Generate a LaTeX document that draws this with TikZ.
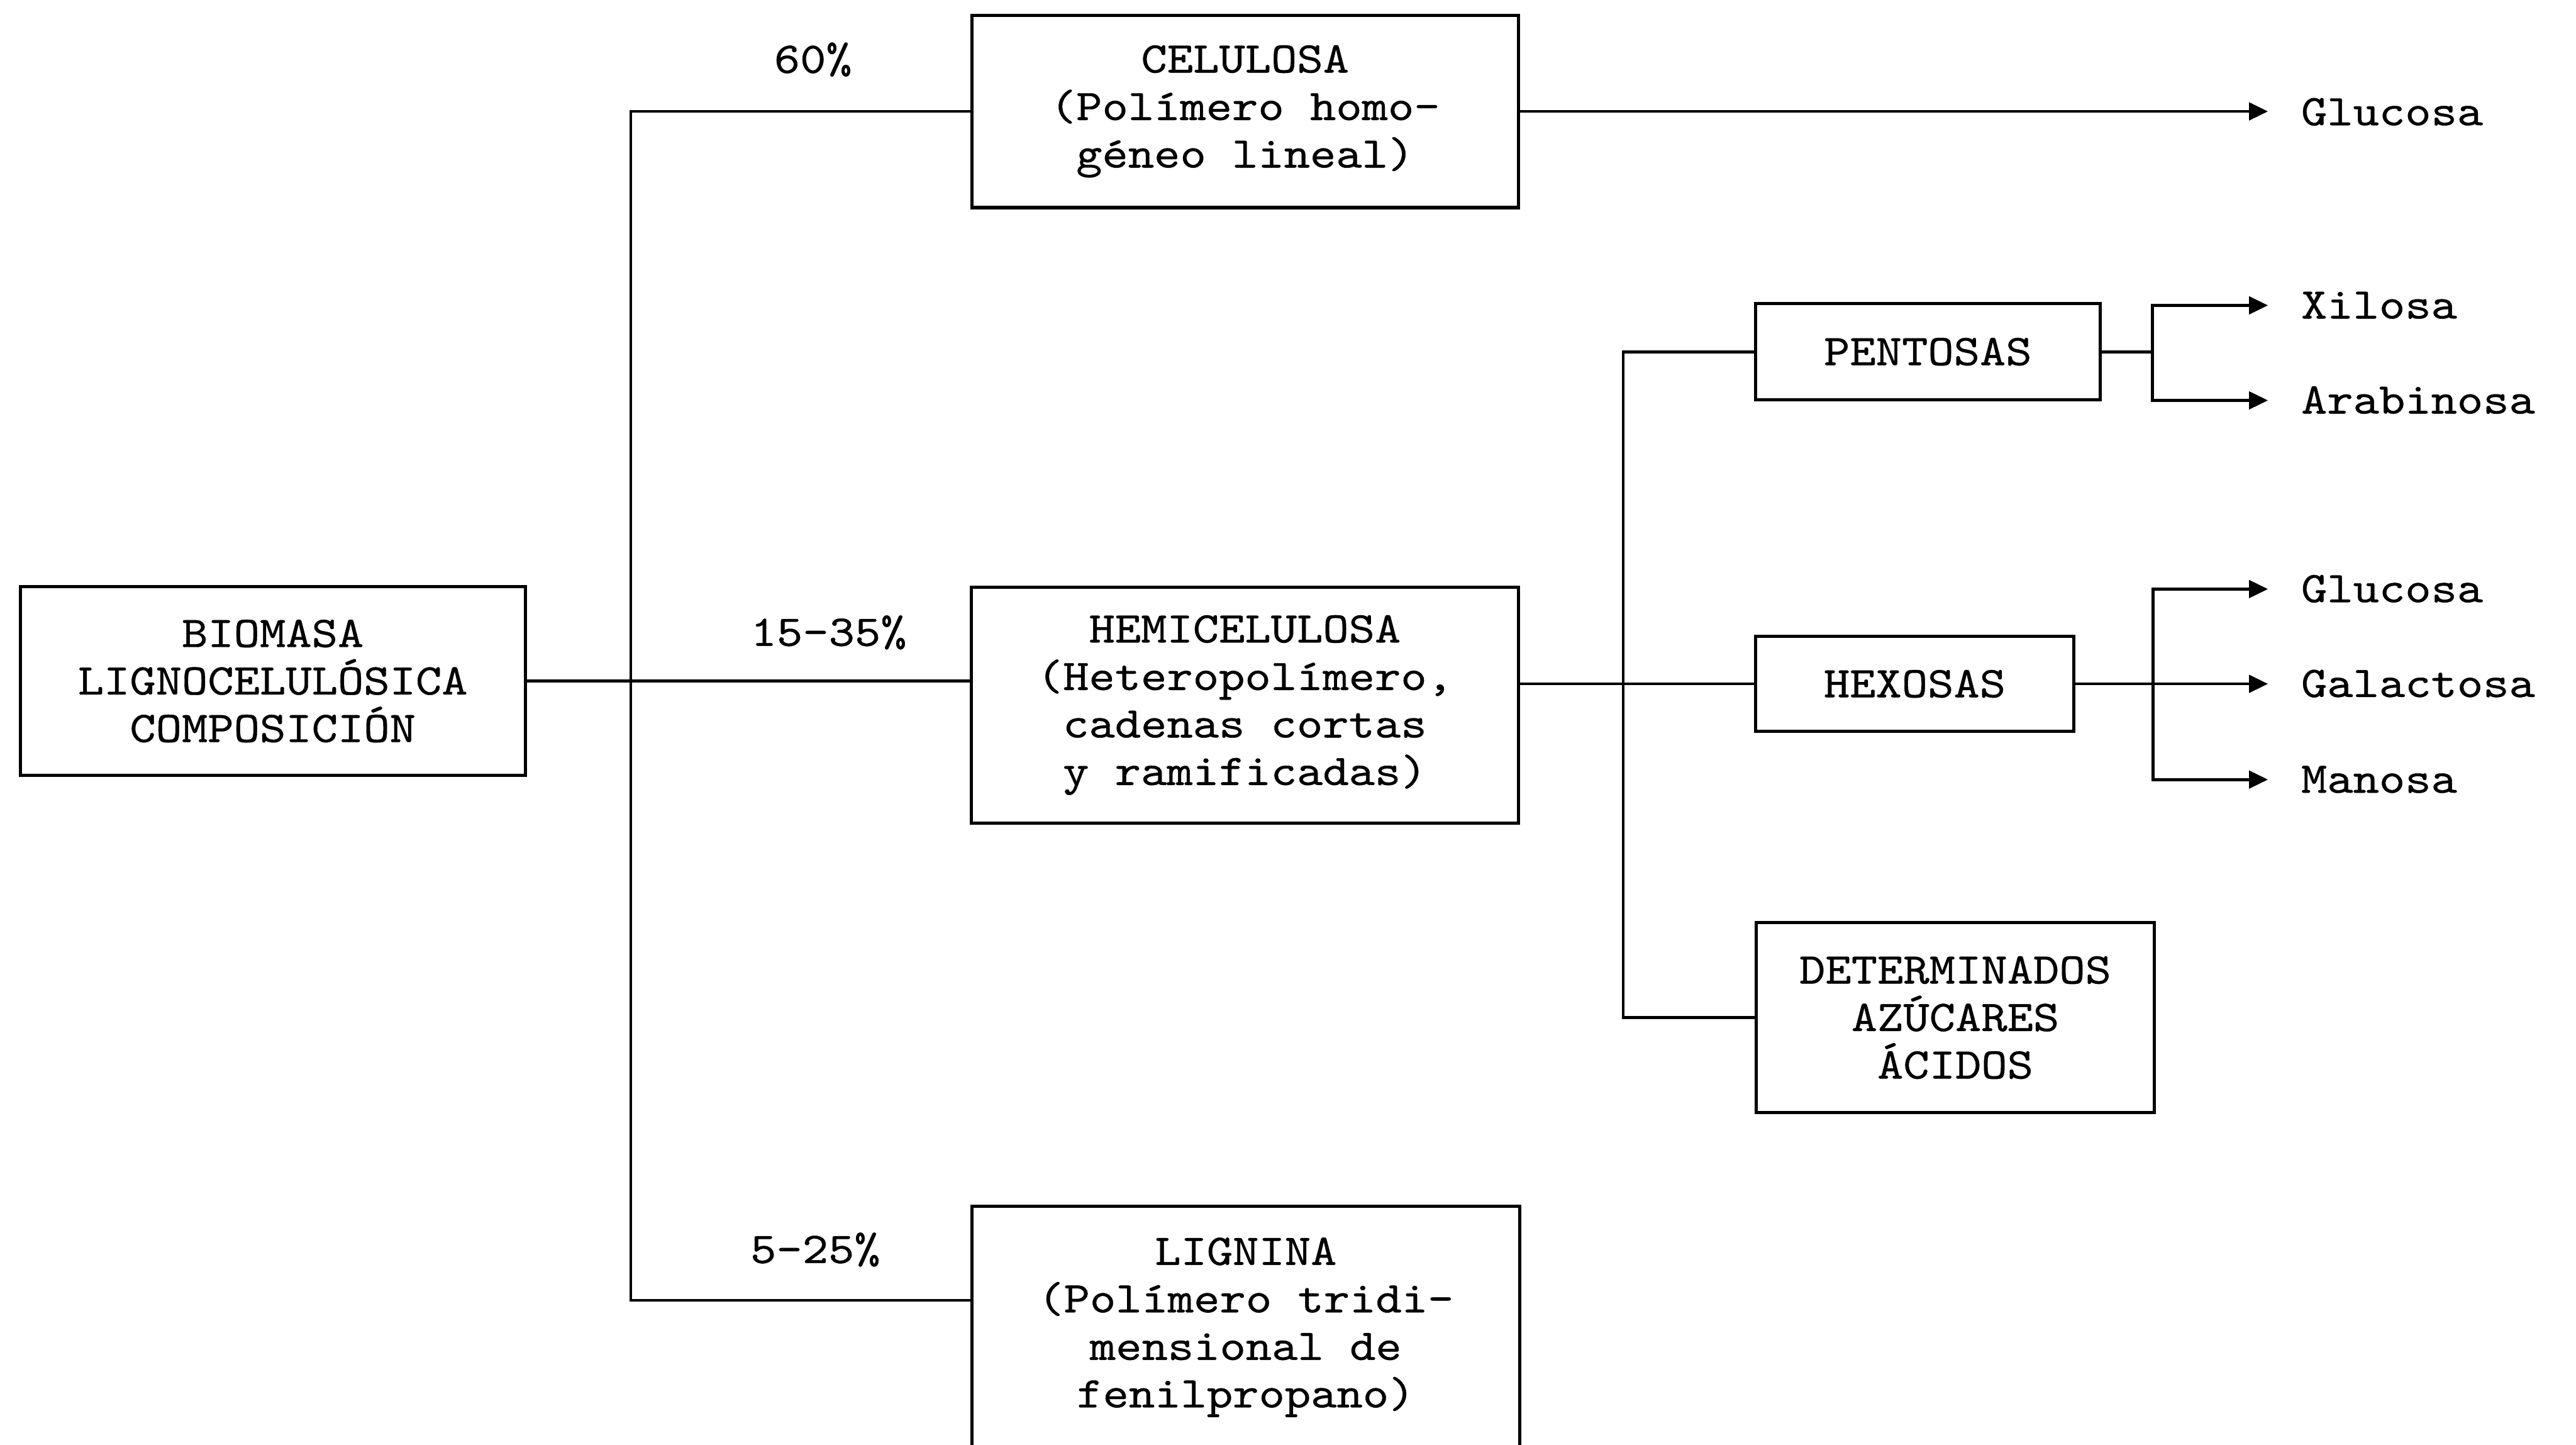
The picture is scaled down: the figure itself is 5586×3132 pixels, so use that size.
\documentclass[tikz,border=0pt]{standalone}
\usepackage{fontspec}
\newfontfamily\tw{lmmono10-regular.otf}[FakeStretch=1.13,FakeBold=0.6]
\usetikzlibrary{arrows.meta}
\newcommand\dfont{\tw\fontsize{9.5}{10.3}\selectfont}
\begin{document}
\begin{tikzpicture}[x=0.1pt,y=-0.1pt,
  box/.style={draw, line width=0.7pt, inner sep=0pt, align=center, font=\dfont},
  lbl/.style={font=\dfont, inner sep=0pt},
  outtxt/.style={anchor=west, inner xsep=7pt, inner ysep=0pt, text height=5.7pt, text depth=0pt, font=\dfont},
  ln/.style={line width=0.65pt},
  arr/.style={ln, -{Triangle[length=4.1pt,width=3.8pt]}}]
\useasboundingbox (0,0) rectangle (5586,3132);
\clip (0,0) rectangle (5586,3132);
\fill[white] (0,0) rectangle (5586,3132);

% boxes
\node[box, minimum width=109.5pt, minimum height=40.9pt] (bio) at (591.5,1476.5) {BIOMASA\\LIGNOCELULÓSICA\\COMPOSICIÓN};
\node[box, minimum width=118.5pt, minimum height=41.7pt] (cel) at (2700,241.5) {CELULOSA\\(Polímero homo-\\géneo lineal)};
\node[box, minimum width=118.7pt, minimum height=51.1pt] (hemi) at (2699.5,1528.5) {HEMICELULOSA\\(Heteropolímero,\\cadenas cortas\\y ramificadas)};
\node[box, minimum width=118.7pt, minimum height=52.5pt] (lig) at (2701.5,2877.5) {LIGNINA\\(Polímero tridi-\\mensional de\\fenilpropano)};
\node[box, minimum width=74.7pt, minimum height=20.9pt] (pent) at (4180.5,762.5) {PENTOSAS};
\node[box, minimum width=69pt, minimum height=20.5pt] (hex) at (4152,1482.5) {HEXOSAS};
\node[box, minimum width=86.4pt, minimum height=41.2pt] (det) at (4240,2206) {DETERMINADOS\\AZÚCARES\\ÁCIDOS};

% percentages
\node[lbl, anchor=base] (p1) at (1763,158) {60\%};
\node[lbl, anchor=base] (p2) at (1797,1400) {15-35\%};
\node[lbl, anchor=base] (p3) at (1768,2738) {5-25\%};

% products
\node[outtxt] (g1) at (4918,243) {Glucosa};
\node[outtxt] (xil) at (4918,662) {Xilosa};
\node[outtxt] (ara) at (4918,868) {Arabinosa};
\node[outtxt] (g2) at (4918,1277) {Glucosa};
\node[outtxt] (gal) at (4918,1482.5) {Galactosa};
\node[outtxt] (man) at (4918,1690) {Manosa};

% connectors
\coordinate (jl) at (1368,2819);
\draw[ln] (cel.west) -| (jl) -- (jl -| lig.west);
\draw[ln] (bio.east) -- (bio.east -| hemi.west);
\coordinate (js) at (3520,2206);
\draw[ln] (pent.west) -| (js) -- (det.west);
\draw[ln] (hex.west -| hemi.east) -- (hex.west);
\draw[arr] (cel.east) -- (cel.east -| g1.west);
\coordinate (jp) at (4667,762.5);
\draw[ln] (pent.east) -- (jp);
\draw[arr] (jp) |- (xil.west);
\draw[arr] (jp) |- (ara.west);
\coordinate (jh) at (4669,1482.5);
\draw[arr] (hex.east) -- (gal.west);
\draw[arr] (jh) |- (g2.west);
\draw[arr] (jh) |- (man.west);
\end{tikzpicture}
\end{document}
